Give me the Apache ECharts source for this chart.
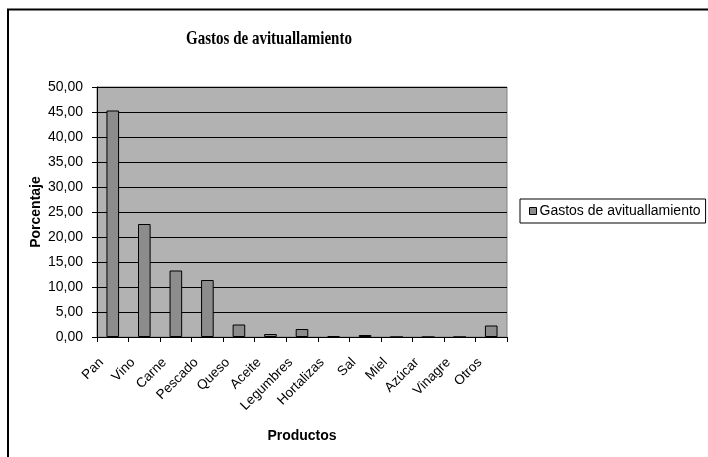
<!DOCTYPE html>
<html><head><meta charset="utf-8">
<script src="https://cdn.jsdelivr.net/npm/echarts@6/dist/echarts.min.js"></script>
<style>html,body{margin:0;padding:0;background:#fff}#c{width:708px;height:457px}</style>
</head><body><div id="c"></div>
<script>
const categories = ['Pan','Vino','Carne','Pescado','Queso','Aceite','Legumbres','Hortalizas','Sal','Miel','Azúcar','Vinagre','Otros'];
const values = [45.3, 22.6, 13.3, 11.4, 2.5, 0.6, 1.6, 0.2, 0.4, 0, 0, 0, 2.3];
const seriesName = 'Gastos de avituallamiento';
const titleText = 'Gastos de avituallamiento';
const yName = 'Porcentaje';
const xName = 'Productos';

const chart = echarts.init(document.getElementById('c'), null, {renderer:'canvas'});
chart.setOption({
  animation:false,
  backgroundColor:'#fff',
  graphic:[
    {type:'rect', shape:{x:8, y:9.5, width:720, height:470}, style:{fill:'none', stroke:'#000', lineWidth:2}, z:-10},
    {type:'text', x:269, y:39.5, scaleX:0.79, style:{text:titleText, fill:'#000', align:'center', verticalAlign:'middle',
      font:'bold 19px "Liberation Serif"'}}
  ],
  legend:{data:[seriesName], left:520, top:199, orient:'vertical', icon:'rect', itemWidth:7, itemHeight:7, itemGap:0,
    padding:[5,5,5,9], borderColor:'#000', borderWidth:1, backgroundColor:'#fff', itemStyle:{borderColor:'#000', borderWidth:1},
    textStyle:{fontFamily:'Liberation Sans', fontSize:14, color:'#000', padding:[0,0,0,-2]}},
  grid:{left:97, top:87, right:201, bottom:120, show:true, backgroundColor:'#b2b2b2', borderColor:'#808080', borderWidth:1},
  xAxis:{type:'category', data:categories, name:xName, nameLocation:'middle', nameGap:92, nameMoveOverlap:false,
    nameTextStyle:{fontFamily:'Liberation Sans', fontWeight:'bold', fontSize:14, color:'#000'},
    axisLine:{lineStyle:{color:'#000', width:1}}, axisTick:{show:true, length:5, lineStyle:{color:'#000'}, alignWithLabel:false},
    axisLabel:{rotate:45, interval:0, margin:12, padding:[0,16,0,0], fontFamily:'Liberation Sans', fontSize:13.5, color:'#000'}},
  yAxis:{type:'value', min:0, max:50, interval:5, name:yName, nameLocation:'middle', nameGap:54, nameMoveOverlap:false,
    nameTextStyle:{fontFamily:'Liberation Sans', fontWeight:'bold', fontSize:14, color:'#000'},
    axisLine:{show:true, lineStyle:{color:'#000'}}, axisTick:{show:true, length:5, lineStyle:{color:'#000'}},
    axisLabel:{margin:14, fontFamily:'Liberation Sans', fontSize:14, color:'#000', formatter:v=>v.toFixed(2).replace('.',',')},
    splitLine:{show:true, lineStyle:{color:'#000', width:1}}},
  series:[{name:seriesName, type:'bar', data:values, barCategoryGap:'60%',
    itemStyle:{color:'#8c8c8c', borderColor:'#000', borderWidth:1}}]
});
</script></body></html>
